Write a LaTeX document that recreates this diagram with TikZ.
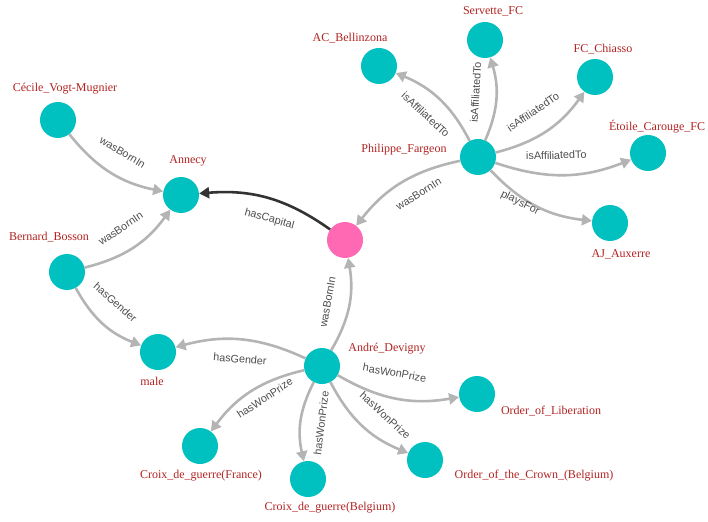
\documentclass[tikz,border=0pt]{standalone}
\usepackage{fontspec}
\setmainfont{Liberation Serif}
\newfontfamily\edgefont{Liberation Sans}
\usetikzlibrary{arrows.meta}
\definecolor{teal0}{HTML}{00C0C0}
\definecolor{pink0}{HTML}{FF69B4}
\definecolor{lblred}{HTML}{B22222}
\definecolor{edgegray}{HTML}{B4B4B4}
\definecolor{edgetext}{HTML}{4D4D4D}
\definecolor{darkedge}{HTML}{333333}
\tikzset{
  ent/.style={circle, fill=teal0, minimum size=36pt, inner sep=0pt},
  hub/.style={circle, fill=pink0, minimum size=36pt, inner sep=0pt},
  nlabel/.style={text=lblred, font=\fontsize{12}{14}\selectfont, inner sep=0pt},
  edge/.style={draw=edgegray, line width=2.6pt, -{Triangle[length=10pt,width=11pt]}, bend right=20},
  capedge/.style={edge, draw=darkedge},
  elbase/.style={sloped, text=edgetext, font=\edgefont\fontsize{10.8}{12}\selectfont, pos=0.5},
  elabel/.style={elbase, auto, inner sep=2pt},
  elswap/.style={elbase, auto, swap, inner sep=2pt},
  elmid/.style={elbase, anchor=center, inner sep=1pt},
  elout/.style={elbase, auto, swap, inner sep=17pt}
}
\begin{document}
\begin{tikzpicture}[x=1pt, y=-1pt]
\useasboundingbox (0,0) rectangle (708,521);
% nodes
\node[ent] (cec) at (58,120) {};
\node[ent] (ann) at (181,195) {};
\node[ent] (ber) at (67,272) {};
\node[ent] (male) at (158,352) {};
\node[hub] (hub) at (345,240) {};
\node[ent] (phil) at (478,157) {};
\node[ent] (acb) at (379,66) {};
\node[ent] (ser) at (485,40) {};
\node[ent] (chi) at (595,77) {};
\node[ent] (eto) at (648,153) {};
\node[ent] (aja) at (610,223) {};
\node[ent] (and) at (322,366) {};
\node[ent] (cfr) at (200,446) {};
\node[ent] (cbe) at (308,479) {};
\node[ent] (ocr) at (425,460) {};
\node[ent] (oli) at (477,394) {};
% labels
\node[nlabel] (lcec) at (65,89) {Cécile\_Vogt-Mugnier};
\node[nlabel] (lann) at (188,161) {Annecy};
\node[nlabel] (lber) at (49,237) {Bernard\_Bosson};
\node[nlabel] (lmale) at (152,381) {male};
\node[nlabel] (lphil) at (404,150) {Philippe\_Fargeon};
\node[nlabel] (lacb) at (350,38) {AC\_Bellinzona};
\node[nlabel] (lser) at (493,11) {Servette\_FC};
\node[nlabel] (lchi) at (603,49) {FC\_Chiasso};
\node[nlabel] (leto) at (657,127) {Étoile\_Carouge\_FC};
\node[nlabel] (laja) at (621,254) {AJ\_Auxerre};
\node[nlabel] (land) at (387,349) {André\_Devigny};
\node[nlabel] (lcfr) at (201,476) {Croix\_de\_guerre(France)};
\node[nlabel] (lcbe) at (330,508) {Croix\_de\_guerre(Belgium)};
\node[nlabel] (locr) at (534,476) {Order\_of\_the\_Crown\_(Belgium)};
\node[nlabel] (loli) at (551,411) {Order\_of\_Liberation};
% edges
\draw[edge] (cec) to (ann);
\path (cec) -- node[elabel] {wasBornIn} (ann);
\draw[edge] (ber) to (ann);
\path (ber) -- node[elabel] {wasBornIn} (ann);
\draw[edge] (ber) to (male);
\path (ber) -- node[elabel, pos=0.45, inner sep=5pt] {hasGender} (male);
\draw[capedge] (hub) to (ann);
\path (hub) -- node[elmid, pos=0.45] {hasCapital} (ann);
\draw[edge] (phil) to (hub);
\path (phil) -- node[elmid, pos=0.43] {wasBornIn} (hub);
\draw[edge] (phil) to (acb);
\path (phil) -- node[elswap, inner sep=0pt] {isAffiliatedTo} (acb);
\draw[edge] (phil) to (ser);
\path (phil) -- node[elabel, pos=0.57] {isAffiliatedTo} (ser);
\draw[edge] (phil) to (chi);
\path (phil) -- node[elabel] {isAffiliatedTo} (chi);
\draw[edge] (phil) to (eto);
\path (phil) -- node[elmid, pos=0.45] {isAffiliatedTo} (eto);
\draw[edge] (phil) to (aja);
\path (phil) -- node[elout, pos=0.36] {playsFor} (aja);
\draw[edge] (and) to (hub);
\path (and) -- node[elabel] {wasBornIn} (hub);
\draw[edge] (and) to (male);
\path (and) -- node[elmid] {hasGender} (male);
\draw[edge] (and) to (cfr);
\path (and) -- node[elabel, pos=0.43, inner sep=0.5pt] {hasWonPrize} (cfr);
\draw[edge] (and) to (cbe);
\path (and) -- node[elswap] {hasWonPrize} (cbe);
\draw[edge] (and) to (ocr);
\path (and) -- node[elabel, pos=0.6] {hasWonPrize} (ocr);
\draw[edge] (and) to (oli);
\path (and) -- node[elabel, pos=0.45] {hasWonPrize} (oli);
\end{tikzpicture}
\end{document}
